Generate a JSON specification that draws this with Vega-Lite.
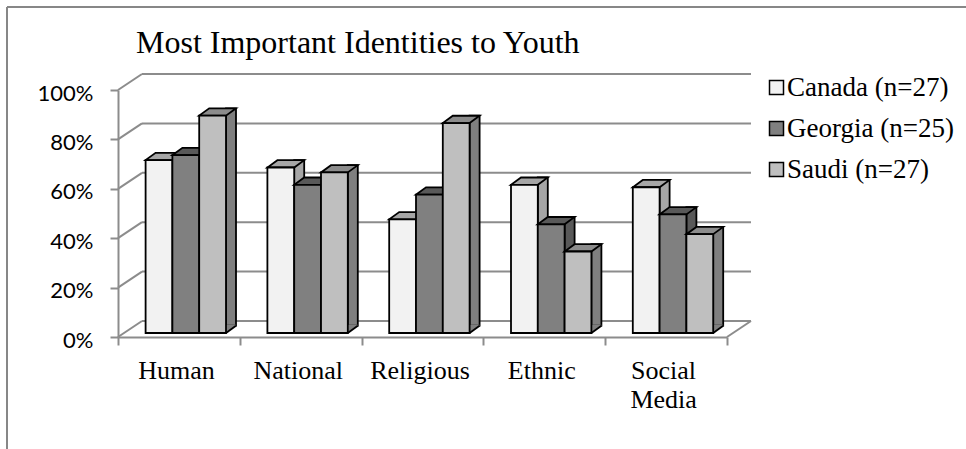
{
  "$schema": "https://vega.github.io/schema/vega-lite/v6.json",
  "width": 609,
  "height": 247,
  "autosize": {"type": "none"},
  "padding": {"left": 118, "top": 90, "right": 239, "bottom": 112},
  "background": "white",
  "config": {
    "view": {"stroke": null},
    "scale": {"bandPaddingInner": 0, "bandPaddingOuter": 0},
    "axisX": {"domainColor": "#8c8c8c", "domainWidth": 2, "tickBand": "extent", "tickColor": "#8c8c8c", "tickWidth": 2, "tickSize": 8, "labelFont": "Liberation Serif", "labelFontSize": 26, "labelColor": "black", "labelPadding": 12, "labelAngle": 0, "labelExpr": "split(datum.label, ' ')", "labelLineHeight": 29, "labelOffset": -3, "grid": false},
    "axisY": {"domainColor": "#8c8c8c", "domainWidth": 2, "tickColor": "#8c8c8c", "tickWidth": 2, "tickSize": 8, "tickCount": 5, "labelFont": "Lato", "labelFontSize": 22, "labelColor": "black", "labelPadding": 17, "labelOffset": 3, "labelExpr": "format(datum.value, '.0%')", "grid": false}
  },
  "title": {"text": "Most Important Identities to Youth", "anchor": "start", "frame": "group", "dx": 18, "offset": -79, "baseline": "alphabetic", "font": "Liberation Serif", "fontSize": 32, "fontWeight": "normal", "color": "black"},
  "datasets": {
    "identities": [
      {"identity": "Human", "country": "Canada (n=27)", "share": 0.70},
      {"identity": "Human", "country": "Georgia (n=25)", "share": 0.72},
      {"identity": "Human", "country": "Saudi (n=27)", "share": 0.88},
      {"identity": "National", "country": "Canada (n=27)", "share": 0.67},
      {"identity": "National", "country": "Georgia (n=25)", "share": 0.60},
      {"identity": "National", "country": "Saudi (n=27)", "share": 0.65},
      {"identity": "Religious", "country": "Canada (n=27)", "share": 0.46},
      {"identity": "Religious", "country": "Georgia (n=25)", "share": 0.56},
      {"identity": "Religious", "country": "Saudi (n=27)", "share": 0.85},
      {"identity": "Ethnic", "country": "Canada (n=27)", "share": 0.60},
      {"identity": "Ethnic", "country": "Georgia (n=25)", "share": 0.44},
      {"identity": "Ethnic", "country": "Saudi (n=27)", "share": 0.33},
      {"identity": "Social Media", "country": "Canada (n=27)", "share": 0.59},
      {"identity": "Social Media", "country": "Georgia (n=25)", "share": 0.48},
      {"identity": "Social Media", "country": "Saudi (n=27)", "share": 0.40}
    ],
    "walls": [{"gridline": 0}, {"gridline": 0.2}, {"gridline": 0.4}, {"gridline": 0.6}, {"gridline": 0.8}, {"gridline": 1}],
    "chartArea": [{"part": "chart border"}]
  },
  "layer": [
    {
      "data": {"name": "chartArea"},
      "mark": {"type": "rule", "stroke": "#878787", "strokeWidth": 2, "xOffset": -171.9, "x2Offset": 299.9, "yOffset": -83},
      "encoding": {
        "x": {"datum": "Human", "type": "nominal", "title": null, "scale": {"domain": ["Human", "National", "Religious", "Ethnic", "Social Media"]}},
        "x2": {"datum": "Social Media"},
        "y": {"datum": 1, "type": "quantitative", "title": null, "scale": {"domain": [0, 1], "nice": false}}
      }
    },
    {
      "data": {"name": "chartArea"},
      "mark": {"type": "rule", "stroke": "#878787", "strokeWidth": 2, "xOffset": -171.9, "yOffset": 112, "y2Offset": -83},
      "encoding": {
        "x": {"datum": "Human", "type": "nominal", "title": null, "scale": {"domain": ["Human", "National", "Religious", "Ethnic", "Social Media"]}},
        "y": {"datum": 0, "type": "quantitative", "title": null, "scale": {"domain": [0, 1], "nice": false}},
        "y2": {"datum": 1}
      }
    },
    {
      "data": {"name": "walls"},
      "mark": {"type": "rule", "stroke": "#8c8c8c", "strokeWidth": 2, "xOffset": -36.9, "x2Offset": 84.9, "yOffset": -16},
      "encoding": {
        "x": {"datum": "Human", "type": "nominal", "title": null, "scale": {"domain": ["Human", "National", "Religious", "Ethnic", "Social Media"]}},
        "x2": {"datum": "Social Media"},
        "y": {"field": "gridline", "type": "quantitative", "title": null, "scale": {"domain": [0, 1], "nice": false}}
      }
    },
    {
      "data": {"name": "walls"},
      "mark": {"type": "point", "shape": "M-60.9,0L-36.9,-16", "size": 4, "filled": false, "stroke": "#8c8c8c", "strokeWidth": 2, "opacity": 1},
      "encoding": {
        "x": {"datum": "Human", "type": "nominal", "title": null, "scale": {"domain": ["Human", "National", "Religious", "Ethnic", "Social Media"]}},
        "y": {"field": "gridline", "type": "quantitative", "title": null, "scale": {"domain": [0, 1], "nice": false}}
      }
    },
    {
      "data": {"name": "chartArea"},
      "mark": {"type": "point", "shape": "M60.9,0L84.9,-16", "size": 4, "filled": false, "stroke": "#8c8c8c", "strokeWidth": 2, "opacity": 1},
      "encoding": {
        "x": {"datum": "Social Media", "type": "nominal", "title": null, "scale": {"domain": ["Human", "National", "Religious", "Ethnic", "Social Media"]}},
        "y": {"datum": 0, "type": "quantitative", "title": null, "scale": {"domain": [0, 1], "nice": false}}
      }
    },
    {
      "data": {"name": "identities"},
      "transform": [{"filter": "datum.country === 'Canada (n=27)'"}],
      "mark": {"type": "bar", "width": 10, "xOffset": -1.5, "yOffset": -11.3, "y2Offset": -11.3, "fill": "#a6a6a6", "stroke": "black", "strokeWidth": 1.8},
      "encoding": {
        "x": {"field": "identity", "type": "nominal", "title": null, "scale": {"domain": ["Human", "National", "Religious", "Ethnic", "Social Media"]}},
        "y": {"field": "share", "type": "quantitative", "title": null, "scale": {"domain": [0, 1], "nice": false}}
      }
    },
    {
      "data": {"name": "identities"},
      "transform": [{"filter": "datum.country === 'Canada (n=27)'"}],
      "mark": {"type": "point", "shape": "M-13.4,0L13.4,0L23.4,-7.3L-3.4,-7.3Z", "size": 4, "filled": true, "fill": "#a6a6a6", "stroke": "black", "strokeWidth": 1.8, "opacity": 1, "xOffset": -19.9, "yOffset": -4},
      "encoding": {
        "x": {"field": "identity", "type": "nominal", "title": null, "scale": {"domain": ["Human", "National", "Religious", "Ethnic", "Social Media"]}},
        "y": {"field": "share", "type": "quantitative", "title": null, "scale": {"domain": [0, 1], "nice": false}}
      }
    },
    {
      "data": {"name": "identities"},
      "transform": [{"filter": "datum.country === 'Canada (n=27)'"}],
      "mark": {"type": "bar", "width": 26.8, "xOffset": -19.9, "yOffset": -4, "y2Offset": -4, "stroke": "black", "strokeWidth": 1.8},
      "encoding": {
        "x": {"field": "identity", "type": "nominal", "title": null, "scale": {"domain": ["Human", "National", "Religious", "Ethnic", "Social Media"]}},
        "y": {"field": "share", "type": "quantitative", "title": null, "scale": {"domain": [0, 1], "nice": false}},
        "color": {"field": "country", "type": "nominal",
          "scale": {"domain": ["Canada (n=27)", "Georgia (n=25)", "Saudi (n=27)"], "range": ["#f2f2f2", "#808080", "#bfbfbf"]},
          "legend": {"orient": "none", "legendX": 645, "legendY": -16, "title": null, "symbolType": "square", "symbolSize": 196, "symbolStrokeColor": "black", "symbolStrokeWidth": 1.5, "symbolOpacity": 1, "labelFont": "Liberation Serif", "labelFontSize": 27, "labelColor": "black", "labelLimit": 400, "rowPadding": 13, "labelOffset": -3, "padding": 0}}
      }
    },
    {
      "data": {"name": "identities"},
      "transform": [{"filter": "datum.country === 'Georgia (n=25)'"}],
      "mark": {"type": "bar", "width": 10, "xOffset": 25.3, "yOffset": -11.3, "y2Offset": -11.3, "fill": "#595959", "stroke": "black", "strokeWidth": 1.8},
      "encoding": {
        "x": {"field": "identity", "type": "nominal", "title": null, "scale": {"domain": ["Human", "National", "Religious", "Ethnic", "Social Media"]}},
        "y": {"field": "share", "type": "quantitative", "title": null, "scale": {"domain": [0, 1], "nice": false}}
      }
    },
    {
      "data": {"name": "identities"},
      "transform": [{"filter": "datum.country === 'Georgia (n=25)'"}],
      "mark": {"type": "point", "shape": "M-13.4,0L13.4,0L23.4,-7.3L-3.4,-7.3Z", "size": 4, "filled": true, "fill": "#595959", "stroke": "black", "strokeWidth": 1.8, "opacity": 1, "xOffset": 6.9, "yOffset": -4},
      "encoding": {
        "x": {"field": "identity", "type": "nominal", "title": null, "scale": {"domain": ["Human", "National", "Religious", "Ethnic", "Social Media"]}},
        "y": {"field": "share", "type": "quantitative", "title": null, "scale": {"domain": [0, 1], "nice": false}}
      }
    },
    {
      "data": {"name": "identities"},
      "transform": [{"filter": "datum.country === 'Georgia (n=25)'"}],
      "mark": {"type": "bar", "width": 26.8, "xOffset": 6.9, "yOffset": -4, "y2Offset": -4, "stroke": "black", "strokeWidth": 1.8},
      "encoding": {
        "x": {"field": "identity", "type": "nominal", "title": null, "scale": {"domain": ["Human", "National", "Religious", "Ethnic", "Social Media"]}},
        "y": {"field": "share", "type": "quantitative", "title": null, "scale": {"domain": [0, 1], "nice": false}},
        "color": {"field": "country", "type": "nominal", "scale": {"domain": ["Canada (n=27)", "Georgia (n=25)", "Saudi (n=27)"], "range": ["#f2f2f2", "#808080", "#bfbfbf"]}}
      }
    },
    {
      "data": {"name": "identities"},
      "transform": [{"filter": "datum.country === 'Saudi (n=27)'"}],
      "mark": {"type": "bar", "width": 10, "xOffset": 52.1, "yOffset": -11.3, "y2Offset": -11.3, "fill": "#7f7f7f", "stroke": "black", "strokeWidth": 1.8},
      "encoding": {
        "x": {"field": "identity", "type": "nominal", "title": null, "scale": {"domain": ["Human", "National", "Religious", "Ethnic", "Social Media"]}},
        "y": {"field": "share", "type": "quantitative", "title": null, "scale": {"domain": [0, 1], "nice": false}}
      }
    },
    {
      "data": {"name": "identities"},
      "transform": [{"filter": "datum.country === 'Saudi (n=27)'"}],
      "mark": {"type": "point", "shape": "M13.4,0L13.4,-8.3L23.4,-8.3L23.4,-7.3Z", "size": 4, "filled": true, "fill": "#7f7f7f", "strokeWidth": 0, "opacity": 1, "xOffset": 33.7, "yOffset": -4},
      "encoding": {
        "x": {"field": "identity", "type": "nominal", "title": null, "scale": {"domain": ["Human", "National", "Religious", "Ethnic", "Social Media"]}},
        "y": {"datum": 0, "type": "quantitative", "title": null, "scale": {"domain": [0, 1], "nice": false}}
      }
    },
    {
      "data": {"name": "identities"},
      "transform": [{"filter": "datum.country === 'Saudi (n=27)'"}],
      "mark": {"type": "point", "shape": "M13.4,0L23.4,-7.3", "size": 4, "filled": false, "stroke": "black", "strokeWidth": 1.8, "opacity": 1, "xOffset": 33.7, "yOffset": -4},
      "encoding": {
        "x": {"field": "identity", "type": "nominal", "title": null, "scale": {"domain": ["Human", "National", "Religious", "Ethnic", "Social Media"]}},
        "y": {"datum": 0, "type": "quantitative", "title": null, "scale": {"domain": [0, 1], "nice": false}}
      }
    },
    {
      "data": {"name": "identities"},
      "transform": [{"filter": "datum.country === 'Saudi (n=27)'"}],
      "mark": {"type": "point", "shape": "M-13.4,0L13.4,0L23.4,-7.3L-3.4,-7.3Z", "size": 4, "filled": true, "fill": "#8c8c8c", "stroke": "black", "strokeWidth": 1.8, "opacity": 1, "xOffset": 33.7, "yOffset": -4},
      "encoding": {
        "x": {"field": "identity", "type": "nominal", "title": null, "scale": {"domain": ["Human", "National", "Religious", "Ethnic", "Social Media"]}},
        "y": {"field": "share", "type": "quantitative", "title": null, "scale": {"domain": [0, 1], "nice": false}}
      }
    },
    {
      "data": {"name": "identities"},
      "transform": [{"filter": "datum.country === 'Saudi (n=27)'"}],
      "mark": {"type": "bar", "width": 26.8, "xOffset": 33.7, "yOffset": -4, "y2Offset": -4, "stroke": "black", "strokeWidth": 1.8},
      "encoding": {
        "x": {"field": "identity", "type": "nominal", "title": null, "scale": {"domain": ["Human", "National", "Religious", "Ethnic", "Social Media"]}},
        "y": {"field": "share", "type": "quantitative", "title": null, "scale": {"domain": [0, 1], "nice": false}},
        "color": {"field": "country", "type": "nominal", "scale": {"domain": ["Canada (n=27)", "Georgia (n=25)", "Saudi (n=27)"], "range": ["#f2f2f2", "#808080", "#bfbfbf"]}}
      }
    }
  ]
}
